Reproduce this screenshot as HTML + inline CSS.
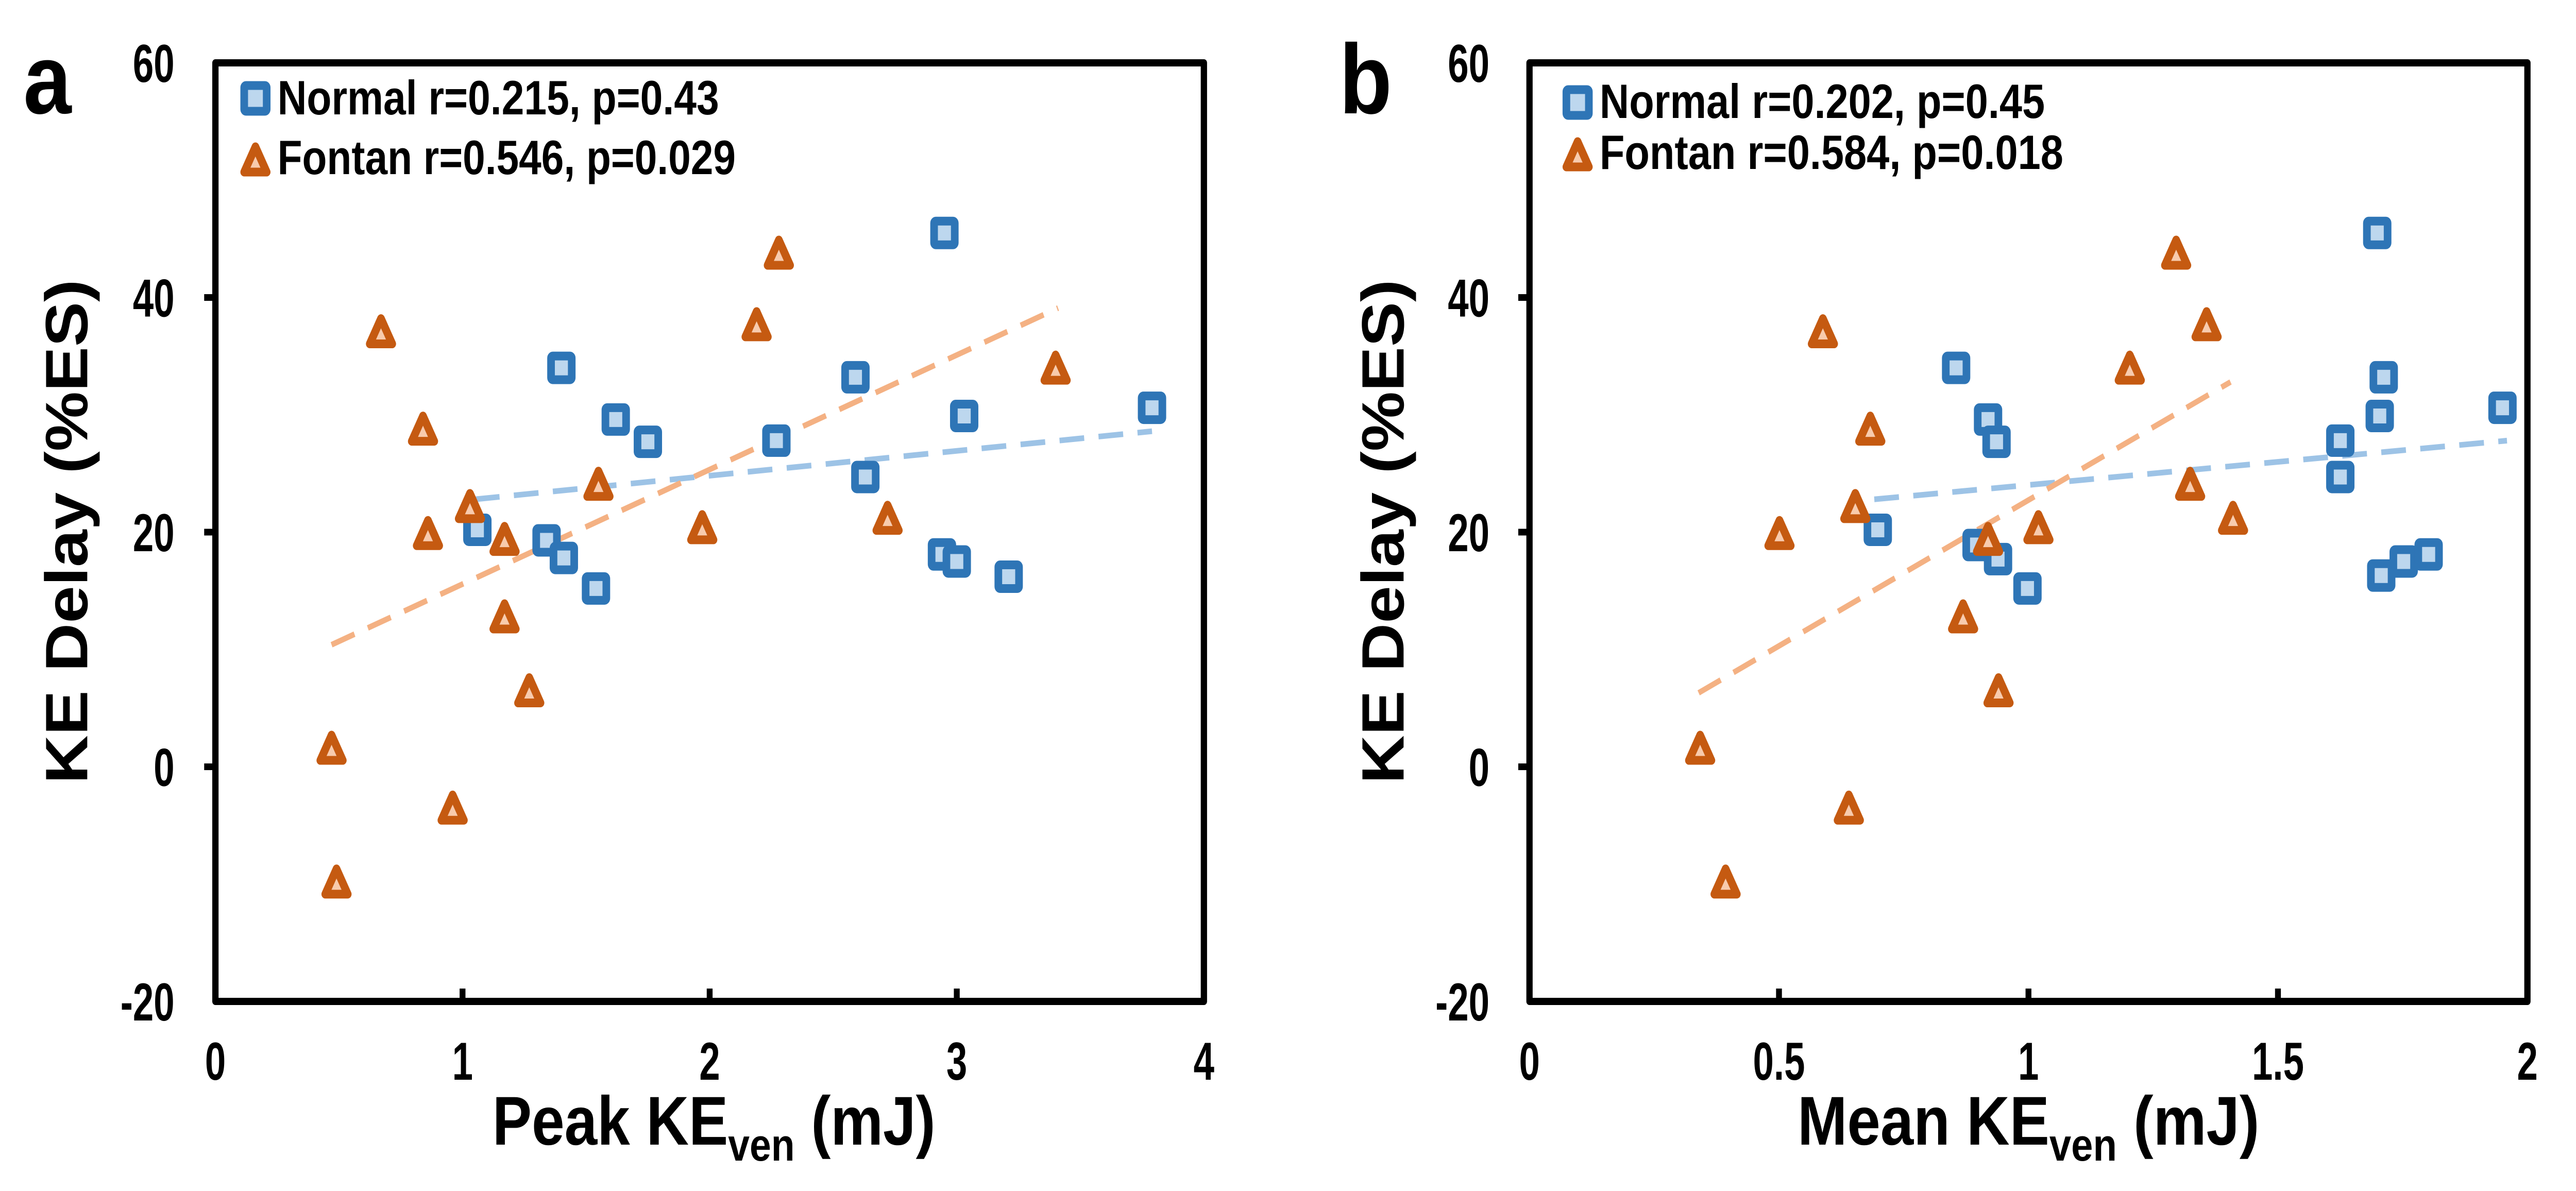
<!DOCTYPE html>
<html><head><meta charset="utf-8"><style>
html,body{margin:0;padding:0;background:#fff;width:100%;height:100%;overflow:hidden;}
svg{display:block;width:100vw;height:100vh;}
text{font-weight:bold;fill:#000;}
.nar{font-family:"Liberation Sans Narrow","Liberation Sans",sans-serif;}
.reg{font-family:"Liberation Sans",sans-serif;}
</style></head><body>
<svg id="fig" xmlns="http://www.w3.org/2000/svg" viewBox="0 0 5728 2312" preserveAspectRatio="none">
<rect x="0" y="0" width="5728" height="2312" fill="#fff"/>
</svg>
<script>
// ---- Panel a data ----
const aNormalX = [1.06,1.40,1.62,1.75,1.34,1.41,1.54,2.27,2.59,2.63,2.95,2.94,3.00,3.03,3.21,3.79];
const aNormalY = [20.2,34.0,29.6,27.7,19.3,17.8,15.2,27.8,33.2,24.7,45.5,18.1,17.5,29.9,16.2,30.6];
const aFontanX = [0.47,0.49,0.67,0.84,0.86,0.96,1.03,1.17,1.17,1.27,1.55,1.97,2.19,2.28,2.72,3.40];
const aFontanY = [1.6,-9.8,37.1,28.8,19.9,-3.5,22.2,19.4,12.8,6.5,24.1,20.4,37.7,43.8,21.2,34.0];
const aNormalTrendX = [1.05,3.79];
const aNormalTrendY = [22.8,28.6];
const aFontanTrendX = [0.47,3.41];
const aFontanTrendY = [10.4,39.1];
const aXTicks = [0,1,2,3,4];
const aXTickLabels = ["0","1","2","3","4"];
// ---- Panel b data ----
const bNormalX = [0.698,0.855,0.919,0.936,0.896,0.939,0.998,1.625,1.625,1.699,1.712,1.704,1.707,1.752,1.802,1.950];
const bNormalY = [20.2,34.0,29.6,27.7,18.9,17.7,15.2,27.8,24.7,45.5,33.2,29.9,16.3,17.5,18.1,30.6];
const bFontanX = [0.342,0.393,0.501,0.588,0.640,0.653,0.683,0.869,0.919,0.940,1.020,1.203,1.296,1.324,1.357,1.410];
const bFontanY = [1.6,-9.8,19.9,37.1,-3.5,22.2,28.8,12.8,19.4,6.5,20.4,34.0,43.8,24.1,37.7,21.2];
const bNormalTrendX = [0.691,1.959];
const bNormalTrendY = [22.8,27.8];
const bFontanTrendX = [0.339,1.405];
const bFontanTrendY = [6.3,32.8];
const bXTicks = [0,0.5,1,1.5,2];
const bXTickLabels = ["0","0.5","1","1.5","2"];
// shared y axis
const yTicks = [-20,0,20,40,60];
const yTickLabels = ["-20","0","20","40","60"];

const NS = "http://www.w3.org/2000/svg";
const svg = document.getElementById('fig');
function mk(tag, attrs, parent, txt){
  const e = document.createElementNS(NS, tag);
  for (const k in attrs) e.setAttribute(k, attrs[k]);
  if (txt !== undefined) e.textContent = txt;
  (parent||svg).appendChild(e);
  return e;
}

function panel(cfg){
  const g = mk('g', {});
  
  
  const L = cfg.left, R = cfg.right, T = 122, B = 1944;
  const xs = v => L + (v - cfg.xmin) / (cfg.xmax - cfg.xmin) * (R - L);
  const ys = v => B - (v - (-20)) / 80 * (B - T);

  const pl = mk('text', {x: cfg.letterX, y: 220, 'class':'reg', 'font-size':192}, g, cfg.letter);
  
  

  yTicks.forEach((t, i) => {
    const y = ys(t);
    if (t > -20 && t < 60) {
      const tk = mk('line', {x1: L - 25, x2: L, y1: y, y2: y, stroke:'#000', 'stroke-width':13}, g);
      
      
    }
    const tl = mk('text', {x: 0, y: 0, transform:`translate(${cfg.yLabelRight},${y + 37}) scale(0.8,1)`, 'text-anchor':'end', 'class':'nar', 'font-size':104}, g, yTickLabels[i]);
    
    
  });
  cfg.xTicks.forEach((t, i) => {
    const x = xs(t);
    if (t > cfg.xmin && t < cfg.xmax) {
      const tk = mk('line', {x1: x, x2: x, y1: B - 25, y2: B, stroke:'#000', 'stroke-width':13}, g);
      
      
    }
    const tl = mk('text', {x: 0, y: 0, transform:`translate(${x},2096) scale(0.8,1)`, 'text-anchor':'middle', 'class':'nar', 'font-size':104}, g, cfg.xTickLabels[i]);
    
    
  });

  const tn = mk('line', {x1: xs(cfg.nTX[0]), y1: ys(cfg.nTY[0]), x2: xs(cfg.nTX[1]), y2: ys(cfg.nTY[1]), stroke:'#9DC3E6', 'stroke-width':11, 'stroke-dasharray':'55 32'}, g);
  
  
  const tf = mk('line', {x1: xs(cfg.fTX[0]), y1: ys(cfg.fTY[0]), x2: xs(cfg.fTX[1]), y2: ys(cfg.fTY[1]), stroke:'#F4B183', 'stroke-width':11, 'stroke-dasharray':'55 32'}, g);
  
  

  cfg.nX.forEach((v, i) => {
    const cx = xs(v), cy = ys(cfg.nY[i]);
    const s = mk('rect', {x: cx - 23, y: cy - 23, width: 46, height: 46, rx: 4, fill:'#BDD7EE', stroke:'#2E75B6', 'stroke-width':17, 'stroke-linejoin':'round'}, g);
    
    
  });
  cfg.fX.forEach((v, i) => {
    const cx = xs(v), cy = ys(cfg.fY[i]);
    const p = mk('path', {d: `M${cx},${cy-25} L${cx+25},${cy+24} L${cx-25},${cy+24} Z`, fill:'#F8CBAD', stroke:'#C55A11', 'stroke-width':17, 'stroke-linejoin':'round'}, g);
    
    
  });

  const fr = mk('rect', {x: L, y: T, width: R - L, height: B - T, fill:'none', stroke:'#000', 'stroke-width':14, 'stroke-linejoin':'round'}, g);
  
  

  const lg = mk('g', {}, g);
  
  
  const sq = mk('rect', {x: cfg.legX - 25, y: cfg.legY1 - 25, width: 50, height: 50, rx: 4, fill:'#BDD7EE', stroke:'#2E75B6', 'stroke-width':17}, lg);
  
  
  const lt1 = mk('text', {x: cfg.legTextX, y: cfg.legBase1, 'class':'nar', 'font-size':94, textLength: cfg.legW1, lengthAdjust:'spacingAndGlyphs'}, lg, cfg.legText1);
  
  
  const cx = cfg.legX, cy = cfg.legY2;
  const tr = mk('path', {d: `M${cx},${cy-25} L${cx+25},${cy+24} L${cx-25},${cy+24} Z`, fill:'#F8CBAD', stroke:'#C55A11', 'stroke-width':17, 'stroke-linejoin':'round'}, lg);
  
  
  const lt2 = mk('text', {x: cfg.legTextX, y: cfg.legBase2, 'class':'nar', 'font-size':94, textLength: cfg.legW2, lengthAdjust:'spacingAndGlyphs'}, lg, cfg.legText2);
  
  

  const yt = mk('text', {x: 0, y: 0, transform: `translate(${cfg.yTitleBase},1032) rotate(-90)`, 'text-anchor':'middle', 'class':'reg', 'font-size':133, textLength: 979, lengthAdjust:'spacingAndGlyphs'}, g, 'KE Delay (%ES)');
  
  

  const xt = mk('text', {x: cfg.xTitleX, y: 2222, 'class':'nar', 'font-size':134, textLength: cfg.xTitleW, lengthAdjust:'spacingAndGlyphs'}, g);
  
  
  mk('tspan', {}, xt, cfg.xTitleMain + ' KE');
  mk('tspan', {dy: 31, 'font-size':88}, xt, 'ven');
  mk('tspan', {dy: -31}, xt, ' (mJ)');
}

panel({id:'panel-a', letter:'a', letterX:52, left:479, right:2677, xmin:0, xmax:4,
  yLabelRight:388, xTicks:aXTicks, xTickLabels:aXTickLabels,
  nX:aNormalX, nY:aNormalY, fX:aFontanX, fY:aFontanY,
  nTX:aNormalTrendX, nTY:aNormalTrendY, fTX:aFontanTrendX, fTY:aFontanTrendY,
  legX:568, legY1:191, legY2:310, legTextX:617, legBase1:222, legBase2:338,
  legText1:'Normal r=0.215, p=0.43', legText2:'Fontan r=0.546, p=0.029', legW1:982, legW2:1019,
  yTitleBase:194, xTitleX:1095, xTitleW:985, xTitleMain:'Peak'});
panel({id:'panel-b', letter:'b', letterX:2978, left:3401, right:5620, xmin:0, xmax:2,
  yLabelRight:3312, xTicks:bXTicks, xTickLabels:bXTickLabels,
  nX:bNormalX, nY:bNormalY, fX:bFontanX, fY:bFontanY,
  nTX:bNormalTrendX, nTY:bNormalTrendY, fTX:bFontanTrendX, fTY:bFontanTrendY,
  legX:3508, legY1:199, legY2:300, legTextX:3557, legBase1:229, legBase2:328,
  legText1:'Normal r=0.202, p=0.45', legText2:'Fontan r=0.584, p=0.018', legW1:990, legW2:1031,
  yTitleBase:3121, xTitleX:3997, xTitleW:1027, xTitleMain:'Mean'});
</script>
</body></html>
